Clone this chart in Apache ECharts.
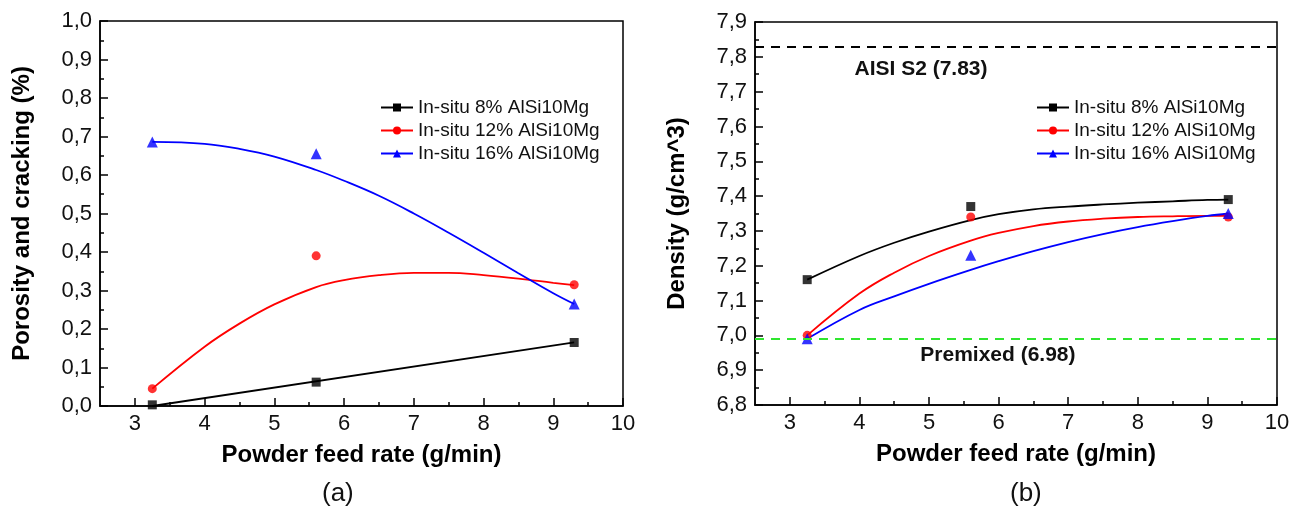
<!DOCTYPE html>
<html>
<head>
<meta charset="utf-8">
<title>Porosity and density vs powder feed rate</title>
<script src="https://cdn.jsdelivr.net/npm/echarts@6.0.0/dist/echarts.min.js"></script>
<style>
  html, body { margin: 0; padding: 0; background: #fff; }
  #main { width: 1304px; height: 515px; }
</style>
</head>
<body>
<div id="main"></div>
<script>
// measured points
const feedRate = [3.25, 5.6, 9.3]
const porosity8 = [0.003, 0.062, 0.165]
const porosity12 = [0.045, 0.39, 0.315]
const porosity16 = [0.686, 0.655, 0.265]
const density8 = [7.16, 7.37, 7.39]
const density12 = [7.00, 7.34, 7.34]
const density16 = [6.99, 7.23, 7.35]

// fitted curves
const fitX = [3.25, 4, 4.5, 5, 5.6, 6, 6.5, 7, 7.5, 8, 8.5, 9, 9.3]
const lineX8 = [3.25, 9.3]
const fitPorosity8 = [0.0, 0.165]
const fitPorosity12 = [0.045, 0.154, 0.214, 0.264, 0.309, 0.327, 0.340, 0.346, 0.346, 0.340, 0.331, 0.320, 0.314]
const fitPorosity16 = [0.686, 0.681, 0.668, 0.648, 0.613, 0.585, 0.546, 0.500, 0.450, 0.398, 0.345, 0.293, 0.265]
const fitDensity8 = [7.16, 7.228, 7.266, 7.298, 7.331, 7.348, 7.362, 7.370, 7.376, 7.381, 7.385, 7.389, 7.390]
const fitDensity12 = [7.00, 7.12, 7.180, 7.228, 7.272, 7.294, 7.314, 7.327, 7.335, 7.340, 7.342, 7.343, 7.343]
const fitDensity16 = [6.99, 7.073, 7.112, 7.148, 7.188, 7.213, 7.242, 7.268, 7.291, 7.311, 7.328, 7.343, 7.350]

// reference densities
const refS2 = 7.825
const refPremixed = 6.99

const xMajor = [3, 4, 5, 6, 7, 8, 9, 10]
const xMinor = [3.5, 4.5, 5.5, 6.5, 7.5, 8.5, 9.5]

const names = ['In-situ 8% AlSi10Mg', 'In-situ 12% AlSi10Mg', 'In-situ 16% AlSi10Mg']
const colors = ['#000000', '#ff0000', '#0000ff']
const symbols = ['rect', 'circle', 'triangle']
const symbolSizes = [9, 9, 11]

const font = 'Liberation Sans, Arial, sans-serif'

function zip(xs, ys) {
	return xs.map((x, i) => [x, ys[i]])
}
function comma(v) {
	return v.toFixed(1).replace('.', ',')
}

function mainX(gridIndex) {
	return {
		gridIndex: gridIndex,
		type: 'value',
		position: 'bottom',
		min: 2.5,
		max: 10,
		name: 'Powder feed rate (g/min)',
		nameLocation: 'middle',
		nameGap: 37,
		nameTextStyle: { fontFamily: font, fontSize: 24, fontWeight: 'bold', color: '#000' },
		axisLine: { lineStyle: { color: '#000', width: 1.5 } },
		axisTick: { inside: true, length: 8, customValues: xMajor, lineStyle: { color: '#000', width: 1.5 } },
		axisLabel: { customValues: xMajor, fontFamily: font, fontSize: 22, color: '#111', margin: 7 },
		splitLine: { show: false }
	}
}
function minorX(gridIndex) {
	return {
		gridIndex: gridIndex,
		type: 'value',
		position: 'bottom',
		min: 2.5,
		max: 10,
		axisLine: { show: false },
		axisTick: { inside: true, length: 4, customValues: xMinor, lineStyle: { color: '#000', width: 1.5 } },
		axisLabel: { show: false },
		splitLine: { show: false }
	}
}
function yAxis(gridIndex, min, max, name) {
	return {
		gridIndex: gridIndex,
		type: 'value',
		min: min,
		max: max,
		interval: 0.1,
		name: name,
		nameLocation: 'middle',
		nameGap: 66,
		nameTextStyle: { fontFamily: font, fontSize: 24, fontWeight: 'bold', color: '#000' },
		axisLine: { show: true, lineStyle: { color: '#000', width: 1.5 } },
		axisTick: { inside: true, length: 8, lineStyle: { color: '#000', width: 1.5 } },
		minorTick: { show: true, splitNumber: 2, length: 4, lineStyle: { color: '#000', width: 1.5 } },
		axisLabel: { formatter: comma, fontFamily: font, fontSize: 22, color: '#111', margin: 8 },
		splitLine: { show: false }
	}
}

function fitSeries(i, xIdx, yIdx, xs, ys) {
	return {
		name: names[i],
		type: 'line',
		xAxisIndex: xIdx,
		yAxisIndex: yIdx,
		data: zip(xs, ys),
		smooth: 0.4,
		showSymbol: false,
		symbol: symbols[i],
		symbolSize: symbolSizes[i],
		itemStyle: { color: colors[i] },
		lineStyle: { color: colors[i], width: 1.8 },
		silent: true,
		z: 2
	}
}
function pointSeries(i, xIdx, yIdx, ys) {
	return {
		name: names[i],
		type: 'scatter',
		xAxisIndex: xIdx,
		yAxisIndex: yIdx,
		data: zip(feedRate, ys),
		symbol: symbols[i],
		symbolSize: symbolSizes[i],
		itemStyle: { color: colors[i] },
		silent: true,
		z: 3
	}
}

const chart = echarts.init(document.getElementById('main'))

const legendBase = {
	orient: 'vertical',
	data: names,
	padding: 0,
	itemWidth: 32,
	itemHeight: 10,
	itemGap: 4,
	textStyle: { fontFamily: font, fontSize: 19, color: '#111' },
	selectedMode: false
}

const refSeries = {
	name: 'reference',
	type: 'line',
	xAxisIndex: 2,
	yAxisIndex: 1,
	data: [],
	silent: true,
	markLine: {
		silent: true,
		symbol: ['none', 'none'],
		label: { show: false },
		data: [
			{ yAxis: refS2, lineStyle: { color: '#000', type: [9, 7], width: 2 } },
			{ yAxis: refPremixed, lineStyle: { color: '#2fe62f', type: [9, 7], width: 2 } }
		]
	},
	markPoint: {
		silent: true,
		symbol: 'rect',
		symbolSize: 1,
		itemStyle: { color: 'transparent' },
		label: { show: true, position: 'inside', fontFamily: font, fontSize: 21, fontWeight: 'bold', color: '#111' },
		data: [
			{ coord: [4.885, 7.764], value: 'AISI S2 (7.83)', label: { formatter: 'AISI S2 (7.83)' } },
			{ coord: [5.99, 6.943], value: 'Premixed (6.98)', label: { formatter: 'Premixed (6.98)' } }
		]
	}
}

chart.setOption({
	animation: false,
	backgroundColor: '#fff',
	grid: [
		{ left: 100, top: 21, width: 523, height: 385, show: true, borderColor: '#000', borderWidth: 1.5 },
		{ left: 755, top: 22, width: 522, height: 383, show: true, borderColor: '#000', borderWidth: 1.5 }
	],
	legend: [
		Object.assign({ left: 380, top: 98 }, legendBase),
		Object.assign({ left: 1036, top: 98 }, legendBase)
	],
	xAxis: [mainX(0), minorX(0), mainX(1), minorX(1)],
	yAxis: [
		yAxis(0, 0, 1, 'Porosity and cracking (%)'),
		yAxis(1, 6.8, 7.9, 'Density (g/cm^3)')
	],
	graphic: [
		{ type: 'text', left: 322, top: 481, style: { text: '(a)', font: '26px ' + font, fill: '#111' } },
		{ type: 'text', left: 1010, top: 481, style: { text: '(b)', font: '26px ' + font, fill: '#111' } }
	],
	series: [
		fitSeries(0, 0, 0, lineX8, fitPorosity8),
		fitSeries(1, 0, 0, fitX, fitPorosity12),
		fitSeries(2, 0, 0, fitX, fitPorosity16),
		pointSeries(0, 0, 0, porosity8),
		pointSeries(1, 0, 0, porosity12),
		pointSeries(2, 0, 0, porosity16),
		fitSeries(0, 2, 1, fitX, fitDensity8),
		fitSeries(1, 2, 1, fitX, fitDensity12),
		fitSeries(2, 2, 1, fitX, fitDensity16),
		pointSeries(0, 2, 1, density8),
		pointSeries(1, 2, 1, density12),
		pointSeries(2, 2, 1, density16),
		refSeries
	]
})
</script>
</body>
</html>
